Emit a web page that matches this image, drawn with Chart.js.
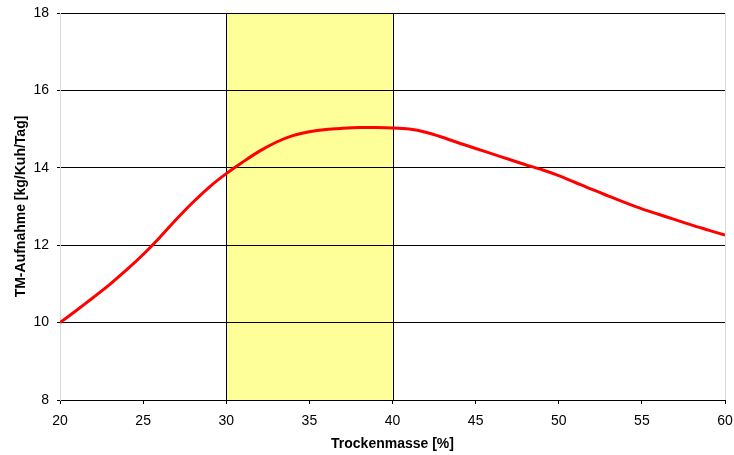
<!DOCTYPE html>
<html lang="de">
<head>
    <meta charset="UTF-8">
    <title>TM-Aufnahme</title>
    <script src="https://cdn.jsdelivr.net/npm/chart.js"></script>
    <style>
        body {
            margin: 0;
            padding: 0;
            background-color: white;
        }
        #wrap {
            width: 734px;
            height: 455px;
        }
    </style>
</head>
<body>

<div id="wrap">
    <canvas id="grafico" width="734" height="455"></canvas>
</div>

<script>
    // Werte
    const trockenmasse = [20, 21, 22, 23, 24, 25, 26, 27, 28, 29, 30, 31, 32, 33, 34, 35, 36, 37, 38, 39, 40,
                          41, 42, 43, 44, 45, 46, 47, 48, 49, 50, 51, 52, 53, 54, 55, 56, 57, 58, 59, 60];
    const tmAufnahme = [10.0, 10.32, 10.65, 10.99, 11.36, 11.76, 12.2, 12.67, 13.11, 13.51, 13.85,
                        14.15, 14.43, 14.66, 14.83, 14.93, 14.99, 15.02, 15.04, 15.04, 15.03,
                        15.0, 14.92, 14.79, 14.64, 14.5, 14.36, 14.22, 14.08, 13.95, 13.8,
                        13.62, 13.44, 13.27, 13.1, 12.94, 12.8, 12.66, 12.52, 12.39, 12.26];
    const bereich = [30, 40];
    const xTicks = [20, 25, 30, 35, 40, 45, 50, 55, 60];
    const yTicks = [8, 10, 12, 14, 16, 18];

    const schrift = "Arial, 'Liberation Sans', sans-serif";

    // gelber Bereich hinter dem Gitter
    const bereichPlugin = {
        id: 'bereich',
        beforeDraw(chart) {
            const ctx = chart.ctx;
            const area = chart.chartArea;
            const x = chart.scales.x;
            const x1 = x.getPixelForValue(bereich[0]);
            const x2 = x.getPixelForValue(bereich[1]);
            ctx.save();
            ctx.fillStyle = '#FFFF99';
            ctx.fillRect(x1, area.top, x2 - x1, area.bottom - area.top);
            ctx.strokeStyle = '#000';
            ctx.lineWidth = 1;
            ctx.beginPath();
            ctx.moveTo(Math.round(x1) + 0.5, area.top);
            ctx.lineTo(Math.round(x1) + 0.5, area.bottom);
            ctx.moveTo(Math.round(x2) + 0.5, area.top);
            ctx.lineTo(Math.round(x2) + 0.5, area.bottom);
            ctx.stroke();
            // rechter Rand
            ctx.strokeStyle = '#d9d9d9';
            ctx.beginPath();
            ctx.moveTo(Math.round(area.right) + 0.5, area.top);
            ctx.lineTo(Math.round(area.right) + 0.5, area.bottom);
            ctx.stroke();
            ctx.restore();
        }
    };

    const ctx = document.getElementById('grafico').getContext('2d');
    new Chart(ctx, {
        type: 'line',
        data: {
            datasets: [{
                data: trockenmasse.map((v, i) => ({ x: v, y: tmAufnahme[i] })),
                borderColor: '#FF0000',
                borderWidth: 3,
                pointRadius: 0,
                tension: 0.3,
                fill: false
            }]
        },
        options: {
            responsive: false,
            animation: false,
            layout: {
                padding: { top: 13, right: 9, left: 0, bottom: 0 }
            },
            plugins: {
                legend: { display: false },
                tooltip: { enabled: false }
            },
            scales: {
                x: {
                    type: 'linear',
                    min: 20,
                    max: 60,
                    afterFit: s => { s.height = 55; s.paddingLeft = 0; s.paddingRight = 0; },
                    afterBuildTicks: s => { s.ticks = xTicks.map(v => ({ value: v })); },
                    grid: {
                        drawOnChartArea: false,
                        drawTicks: true,
                        tickLength: 4,
                        color: '#000'
                    },
                    border: { color: '#000', width: 1 },
                    ticks: {
                        color: '#000',
                        font: { family: schrift, size: 14 },
                        padding: 9,
                        maxRotation: 0
                    },
                    title: {
                        display: true,
                        text: 'Trockenmasse [%]',
                        color: '#000',
                        font: { family: schrift, size: 14, weight: 'bold' },
                        padding: { top: 0, bottom: 2 }
                    }
                },
                y: {
                    min: 8,
                    max: 18,
                    afterFit: s => { s.width = 60; s.paddingTop = 0; s.paddingBottom = 0; },
                    afterBuildTicks: s => { s.ticks = yTicks.map(v => ({ value: v })); },
                    grid: {
                        color: '#000',
                        tickLength: 3
                    },
                    border: { color: '#d9d9d9', width: 1 },
                    ticks: {
                        color: '#000',
                        font: { family: schrift, size: 14 },
                        padding: 8
                    },
                    title: {
                        display: true,
                        text: 'TM-Aufnahme [kg/Kuh/Tag]',
                        color: '#000',
                        font: { family: schrift, size: 14, weight: 'bold' },
                        padding: { top: 13, bottom: 0 }
                    }
                }
            }
        },
        plugins: [bereichPlugin]
    });
</script>

</body>
</html>
